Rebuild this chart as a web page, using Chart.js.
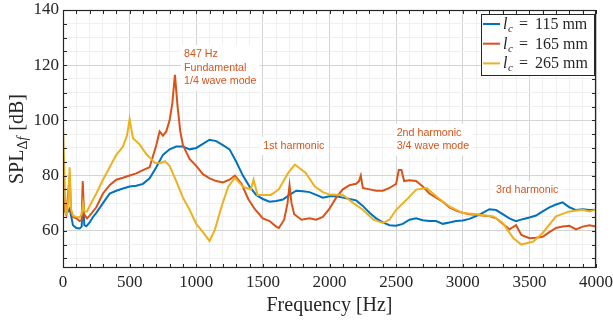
<!DOCTYPE html>
<html><head><meta charset="utf-8">
<script src="https://cdn.jsdelivr.net/npm/chart.js@4.4.1/dist/chart.umd.min.js"></script>
<style>html,body{margin:0;padding:0;background:#fff;}#wrap{width:613px;height:322px;}</style>
</head><body><div id="wrap"><canvas id="c" width="613" height="322"></canvas></div>
<script>
// ---- data (frequency in Hz, SPL in dB) ----
const seriesNames = ['115 mm', '165 mm', '265 mm'];
const freq115 = [0,10,25,50,75,100,125,140,150,160,175,200,225,250,300,350,400,450,500,550,600,650,700,750,800,850,900,950,1000,1050,1100,1150,1200,1250,1300,1350,1400,1450,1500,1550,1600,1650,1700,1750,1800,1850,1900,1950,2000,2050,2100,2150,2200,2250,2300,2350,2400,2450,2500,2550,2600,2650,2700,2750,2800,2850,2900,2950,3000,3050,3100,3150,3200,3250,3300,3350,3400,3450,3500,3550,3600,3650,3700,3750,3800,3850,3900,3950,4000];
const spl115 = [75,68,66,68,62,61,60.8,61.5,71,62,61.6,63,65,66.5,70,73.5,74.5,75.3,76,76.3,77,79,83,87.5,89.5,90.5,90.5,89.5,90,91.5,93,92.5,91,89.5,85,80,76,73,71.5,70.5,70.8,71.3,73,74.5,74.3,74,73,72,72.5,72.5,72,71.5,71,69,66.5,64.5,63,62,61.8,62.5,64,64.5,63.8,63.5,63.5,62.5,63,63.5,63.7,64.3,65.3,66.5,67.8,67.5,66,64.5,63.5,64.2,64.8,65.5,67,68.5,69.5,70.3,68.5,67.5,67.8,67.5,67.6];
const freq165 = [0,10,25,50,60,75,100,125,140,148,158,180,200,250,300,350,400,450,500,550,600,650,675,700,725,750,775,800,820,840,860,880,900,950,1000,1050,1100,1150,1200,1250,1290,1340,1390,1440,1500,1550,1600,1620,1660,1685,1700,1715,1735,1790,1850,1900,1950,2000,2050,2100,2150,2200,2222,2235,2250,2300,2350,2400,2450,2500,2520,2540,2560,2600,2650,2700,2750,2800,2850,2900,2950,3000,3050,3100,3150,3200,3250,3300,3350,3400,3440,3500,3550,3600,3650,3700,3750,3800,3850,3900,3950,4000];
const spl165 = [73,68,66,80,67,65,64.5,63.5,64,78,66,64.5,65.5,68.5,73.5,76.5,78.5,79.2,80,80.8,82,83,87,91,96,94.5,96,100,106,116.5,105,96,91,86,83.5,80.5,79,78,77.5,78.5,80,77,71.5,67.8,64.5,63.5,61.5,61,64,70,76.5,70,66,64,64.5,64,65,68,72,75,76.5,77,78,80,75.5,75,74.5,74.5,75.5,77,82,82,78,78.3,78,76,73.5,72,70.5,68.5,67.3,66.5,66,65.8,65.5,65.3,64.5,62.5,60.5,62,58.5,57.3,57.5,57.8,59.5,61,61.5,61.8,60.5,61.5,62,61.5];
const freq265 = [0,8,20,30,40,50,60,75,100,125,140,150,160,180,200,250,300,350,400,450,480,500,525,575,625,690,730,765,800,850,900,950,1000,1050,1100,1140,1190,1240,1290,1350,1410,1430,1460,1500,1560,1620,1690,1740,1820,1890,1950,2000,2100,2180,2250,2330,2400,2450,2500,2580,2650,2730,2800,2900,3000,3100,3230,3300,3380,3440,3530,3600,3700,3800,3900,3950,4000];
const spl265 = [98,85,66,66,72,83,68,65.5,65,64.8,66,70,67,67,69,73.5,78.5,83,87.5,90.5,94.5,100.5,93.5,91.3,87.8,84.6,84.5,85.2,83.5,78,72,67.6,62.5,59.5,56.3,60.4,68.8,76,79.2,76,75,78.5,73,73,73,75,81,84,81,76,74,73.1,73,70,67.6,64,62.8,64,67.6,71.3,74.9,75.5,72.5,68.8,66.4,66,65.2,62.8,57.3,55,56.1,59.2,65.2,67,67.6,67,67.6];
const xTickLabels = [0,500,1000,1500,2000,2500,3000,3500,4000];
const yTickLabels = [60,80,100,120,140];
const annotations = [
  {f: 908, db: 124, lines: ['847 Hz', 'Fundamental', '1/4 wave mode']},
  {f: 1503, db: 90.7, lines: ['1st harmonic']},
  {f: 2504, db: 95.5, lines: ['2nd harmonic', '3/4 wave mode']},
  {f: 3250, db: 74.7, lines: ['3rd harmonic']}
];
// ---- styles ----
const colors = ['#0072BD', '#D95319', '#EDB120'];
const SERIF = '"Liberation Serif", "Times New Roman", serif';
const SANS = '"Liberation Sans", Arial, sans-serif';
const AX = '#262626';
const X_MIN = 0, X_MAX = 4000, Y_MIN = 46.5, Y_MAX = 140;
const xMinor = []; for (let v = X_MIN; v <= X_MAX; v += 100) xMinor.push(v);
const yMinor = []; for (let v = 50; v <= Y_MAX; v += 5) yMinor.push(v);

function toXY(fs, ys) { return fs.map((f, i) => ({x: f, y: ys[i]})); }

const framePlugin = {
  id: 'frame',
  beforeDatasetsDraw(chart) {
    const ctx = chart.ctx, xs = chart.scales.x, ys = chart.scales.y;
    ctx.save();
    ctx.font = '10.7px ' + SANS;
    ctx.textBaseline = 'middle';
    const lh = 13.7;
    annotations.forEach(a => {
      const x0 = xs.getPixelForValue(a.f), y0 = ys.getPixelForValue(a.db);
      const w = Math.max(...a.lines.map(t => ctx.measureText(t).width));
      ctx.fillStyle = '#fff';
      ctx.fillRect(x0 - 3, y0 - 9, w + 6, (a.lines.length - 1) * lh + 18);
      ctx.fillStyle = colors[1];
      a.lines.forEach((t, i) => ctx.fillText(t, x0, y0 + i * lh));
    });
    ctx.restore();
  },
  afterDraw(chart) {
    const ctx = chart.ctx, xs = chart.scales.x, ys = chart.scales.y, ca = chart.chartArea;
    ctx.save();
    ctx.strokeStyle = AX; ctx.lineWidth = 1;
    ctx.beginPath();
    xMinor.forEach(v => {
      const p = Math.round(xs.getPixelForValue(v)) + 0.5;
      ctx.moveTo(p, ca.bottom); ctx.lineTo(p, ca.bottom - 4);
      ctx.moveTo(p, ca.top); ctx.lineTo(p, ca.top + 4);
    });
    yMinor.forEach(v => {
      const p = Math.round(ys.getPixelForValue(v)) + 0.5;
      ctx.moveTo(ca.left, p); ctx.lineTo(ca.left + 4, p);
      ctx.moveTo(ca.right, p); ctx.lineTo(ca.right - 4, p);
    });
    ctx.stroke();
    ctx.lineWidth = 1.2;
    ctx.strokeRect(Math.round(ca.left) + 0.5, Math.round(ca.top) + 0.5, Math.round(ca.right - ca.left) - 1, Math.round(ca.bottom - ca.top) - 1);
    ctx.fillStyle = AX;
    ctx.font = '20px ' + SERIF;
    ctx.textAlign = 'center'; ctx.textBaseline = 'alphabetic';
    ctx.fillText('Frequency [Hz]', (ca.left + ca.right) / 2, 311);
    ctx.save();
    ctx.translate(16, (ca.top + ca.bottom) / 2);
    ctx.rotate(-Math.PI / 2);
    ctx.textAlign = 'left';
    const big = '20px ' + SERIF, sub = '14px ' + SERIF, subI = 'italic 14px ' + SERIF;
    ctx.font = big; const w1 = ctx.measureText('SPL').width, w4 = ctx.measureText(' [dB]').width;
    ctx.font = sub; const w2 = ctx.measureText('\u0394').width;
    ctx.font = subI; const w3 = ctx.measureText('f').width + 1;
    let x = -(w1 + w2 + w3 + w4) / 2;
    ctx.font = big; ctx.fillText('SPL', x, 7); x += w1;
    ctx.font = sub; ctx.fillText('\u0394', x, 11); x += w2;
    ctx.font = subI; ctx.fillText('f', x, 11); x += w3;
    ctx.font = big; ctx.fillText(' [dB]', x, 7);
    ctx.restore();
    const lx = 481, ly = 14, lw = 113, lhgt = 61;
    ctx.fillStyle = '#fff';
    ctx.fillRect(lx, ly, lw, lhgt);
    ctx.lineWidth = 1; ctx.strokeStyle = AX;
    ctx.strokeRect(lx + 0.5, ly + 0.5, lw, lhgt);
    seriesNames.forEach((name, i) => {
      const cy = ly + 10 + i * 19.7;
      ctx.strokeStyle = colors[i]; ctx.lineWidth = 2;
      ctx.beginPath(); ctx.moveTo(483, cy); ctx.lineTo(500, cy); ctx.stroke();
      ctx.fillStyle = AX; ctx.textAlign = 'left'; ctx.textBaseline = 'alphabetic';
      ctx.font = 'italic 16px ' + SERIF; ctx.fillText('l', 503, cy + 5);
      ctx.font = 'italic 11px ' + SERIF; ctx.fillText('c', 508, cy + 8);
      ctx.font = '16px ' + SERIF; ctx.fillText('=', 519, cy + 5);
      ctx.fillText(name, 535, cy + 5);
    });
    ctx.restore();
  }
};

new Chart(document.getElementById('c'), {
  type: 'line',
  data: {
    datasets: [
      {label: seriesNames[0], data: toXY(freq115, spl115), borderColor: colors[0], order: 3},
      {label: seriesNames[1], data: toXY(freq165, spl165), borderColor: colors[1], order: 2},
      {label: seriesNames[2], data: toXY(freq265, spl265), borderColor: colors[2], order: 1}
    ].map(d => Object.assign(d, {borderWidth: 2, pointRadius: 0, tension: 0, fill: false}))
  },
  options: {
    responsive: false, animation: false, devicePixelRatio: 1,
    layout: {padding: {left: 0, right: 17, top: 10, bottom: 0}},
    plugins: {legend: {display: false}, tooltip: {enabled: false}},
    scales: {
      x: {
        type: 'linear', min: X_MIN, max: X_MAX,
        afterBuildTicks: s => { s.ticks = xMinor.map(v => ({value: v})); },
        afterFit: s => { s.height = 54; s.paddingLeft = 0; s.paddingRight = 0; },
        grid: {drawTicks: false, lineWidth: 1, color: c => (c.tick && c.tick.value % 500 === 0) ? '#d4d4d4' : '#efefef'},
        border: {display: false},
        ticks: {autoSkip: false, maxRotation: 0, padding: 4, color: AX, font: {family: SERIF, size: 17},
          callback: v => xTickLabels.includes(v) ? String(v) : ''}
      },
      y: {
        type: 'linear', min: Y_MIN, max: Y_MAX,
        afterBuildTicks: s => { s.ticks = yMinor.map(v => ({value: v})); },
        afterFit: s => { s.width = 63; s.paddingTop = 0; s.paddingBottom = 0; },
        grid: {drawTicks: false, lineWidth: 1, color: c => (c.tick && c.tick.value % 20 === 0) ? '#d4d4d4' : '#efefef'},
        border: {display: false},
        ticks: {autoSkip: false, padding: 4, color: AX, font: {family: SERIF, size: 17},
          callback: v => yTickLabels.includes(v) ? String(v) : ''}
      }
    }
  },
  plugins: [framePlugin]
});
</script>
</body></html>
